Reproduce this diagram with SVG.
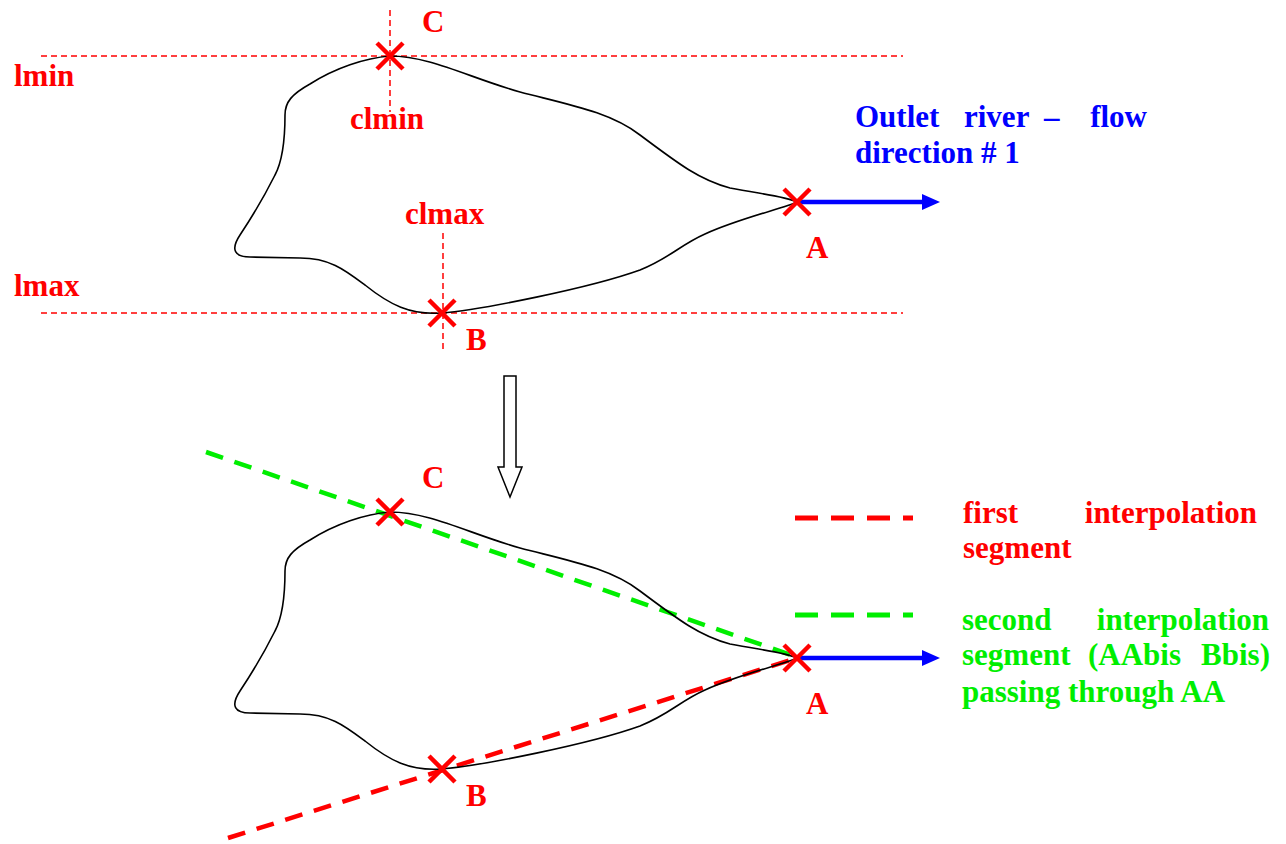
<svg xmlns="http://www.w3.org/2000/svg" xmlns:xlink="http://www.w3.org/1999/xlink" width="1286" height="844" viewBox="0 0 1286 844">
<style>
text{font-family:"Liberation Serif","Times New Roman",serif;font-weight:bold;font-size:31px}
.r{fill:#ff0000}.b{fill:#0000ff}.g{fill:#00ee00}
.guide{stroke:#ff0000;stroke-width:1.5;stroke-dasharray:6 4;fill:none}
.basin{fill:none;stroke:#000;stroke-width:1.6}
.x{stroke:#ff0000;stroke-width:4.5;fill:none}
.flow{stroke:#0000ff;stroke-width:4.5;fill:none}
.seg{stroke-width:4.5;stroke-dasharray:18 12;fill:none}
.leg{stroke-width:5;stroke-dasharray:23 13;fill:none}
</style>
<defs>
<path id="shape" d="M390,56 C430,56 470,78 520,92 C570,105 610,112 640,135 C680,165 700,180 730,188 C760,194 785,196 797,202 C785,208 740,218 705,234 C680,245 670,258 640,270 C590,288 480,310 441,313 C410,315 390,305 365,285 C345,270 330,258 300,258 L250,257 C235,257 230,250 240,235 C250,220 265,195 275,175 C283,160 285,140 285,115 C285,102 292,94 310,84 C335,68 365,58 390,56 Z"/>
<g id="xm"><path d="M-13,-13 L13,13 M-13,13 L13,-13"/></g>
</defs>

<g id="connectors">
<line class="guide" x1="41" y1="56" x2="903" y2="56"/>
<line class="guide" x1="41" y1="313" x2="903" y2="313"/>
<line class="guide" x1="390" y1="10" x2="390" y2="112"/>
<line class="guide" x1="443" y1="233" x2="443" y2="352"/>
<line class="flow" x1="800" y1="202" x2="925" y2="202"/>
<polygon class="b" points="922,194 940,202 922,210"/>
<line class="seg" stroke="#00ee00" x1="206" y1="452" x2="797" y2="657"/>
<line class="seg" stroke="#ff0000" x1="228" y1="838" x2="797" y2="658"/>
<line class="flow" x1="800" y1="658" x2="925" y2="658"/>
<polygon class="b" points="922,650 940,658 922,666"/>
<polygon points="504,376 516,376 516,467 522,467 510,497 498,467 504,467" fill="#fff" stroke="#000" stroke-width="1.5"/>
<line class="leg" stroke="#ff0000" x1="795" y1="518" x2="913" y2="518"/>
<line class="leg" stroke="#00ee00" x1="795" y1="615" x2="913" y2="615"/>
</g>

<g id="basin-top">
<use xlink:href="#shape" href="#shape" class="basin"/>
</g>
<g id="basin-bottom" transform="translate(0,456)">
<use xlink:href="#shape" href="#shape" class="basin"/>
</g>

<g id="markers" class="x">
<use href="#xm" xlink:href="#xm" x="390" y="56"/>
<use href="#xm" xlink:href="#xm" x="442" y="313"/>
<use href="#xm" xlink:href="#xm" x="797" y="202"/>
<use href="#xm" xlink:href="#xm" x="390" y="512"/>
<use href="#xm" xlink:href="#xm" x="442" y="769"/>
<use href="#xm" xlink:href="#xm" x="797" y="658"/>
</g>

<g id="labels-top">
<text class="r" x="422" y="32">C</text>
<text class="r" x="14" y="86">lmin</text>
<text class="r" x="350" y="129">clmin</text>
<text class="r" x="405" y="224">clmax</text>
<text class="r" x="14" y="296">lmax</text>
<text class="r" x="466" y="350">B</text>
<text class="r" x="806" y="258">A</text>
</g>

<g id="outlet-label">
<text class="b" x="855" y="127">Outlet</text>
<text class="b" x="964" y="127">river</text>
<text class="b" x="1044" y="127">–</text>
<text class="b" x="1147" y="127" text-anchor="end">flow</text>
<text class="b" x="855" y="163">direction # 1</text>
</g>

<g id="labels-bottom">
<text class="r" x="422" y="488">C</text>
<text class="r" x="466" y="806">B</text>
<text class="r" x="806" y="714">A</text>
</g>

<g id="legend-first">
<text class="r" x="963" y="523">first</text>
<text class="r" x="1257" y="523" text-anchor="end">interpolation</text>
<text class="r" x="963" y="558">segment</text>
</g>

<g id="legend-second">
<text class="g" x="962" y="630">second</text>
<text class="g" x="1269" y="630" text-anchor="end">interpolation</text>
<text class="g" x="962" y="665">segment</text>
<text class="g" x="1088" y="665">(AAbis</text>
<text class="g" x="1270" y="665" text-anchor="end">Bbis)</text>
<text class="g" x="962" y="702">passing through AA</text>
</g>
</svg>
